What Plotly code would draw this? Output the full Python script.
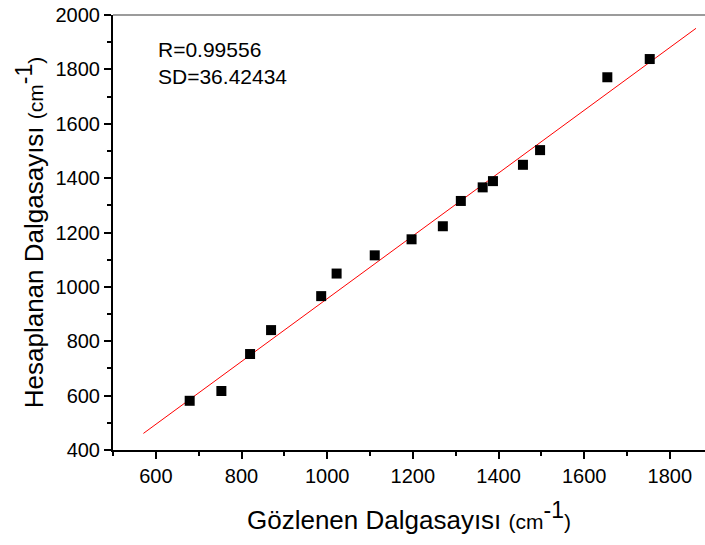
import plotly.graph_objects as go

# Observed vs. calculated wavenumbers (cm^-1)
observed = [679, 753, 820, 869, 986, 1022, 1111, 1197, 1270, 1312, 1363, 1387, 1457, 1497, 1654, 1753]
calculated = [581, 617, 753, 841, 966, 1049, 1116, 1175, 1223, 1316, 1366, 1389, 1449, 1503, 1771, 1838]

# Linear fit line end points
fit_x = [571, 1861]
fit_y = [461, 1951]

stats_text = ["R=0.99556", "SD=36.42434"]

x_ticks = [600, 800, 1000, 1200, 1400, 1600, 1800]
y_ticks = [400, 600, 800, 1000, 1200, 1400, 1600, 1800, 2000]

FONT = "Liberation Sans, Arial, sans-serif"


def unit_title(name):
    return (name + " <span style='font-size:21px'>(cm</span>"
            "<sup><span style='font-size:23px'>-1</span></sup>"
            "<span style='font-size:21px'>)</span>")


fig = go.Figure()
fig.add_trace(go.Scatter(
    x=fit_x, y=fit_y, mode="lines",
    line=dict(color="#ff0000", width=1), hoverinfo="skip", showlegend=False,
))
fig.add_trace(go.Scatter(
    x=observed, y=calculated, mode="markers",
    marker=dict(symbol="square", size=10, color="black", line=dict(width=0)),
    showlegend=False,
))

axis_common = dict(
    showgrid=False, zeroline=False, showline=True, linecolor="black", linewidth=2,
    ticks="outside", tickcolor="black", tickwidth=1.5, ticklen=7,
    tickfont=dict(family=FONT, size=20, color="black"),
)

fig.update_xaxes(
    range=[500, 1882], tickvals=x_ticks, mirror=False,
    minor=dict(dtick=100, tick0=500, ticks="outside", ticklen=4, tickwidth=1.5, tickcolor="black"),
    title=dict(text=unit_title("Gözlenen Dalgasayısı"),
               font=dict(family=FONT, size=26, color="black"), standoff=25),
    **axis_common,
)
fig.update_yaxes(
    range=[400, 2000], tickvals=y_ticks,
    minor=dict(dtick=100, tick0=400, ticks="outside", ticklen=4, tickwidth=1.5, tickcolor="black"),
    title=dict(text=unit_title("Hesaplanan Dalgasayısı"),
               font=dict(family=FONT, size=26, color="black"), standoff=4),
    **axis_common,
)

# Top frame line
fig.add_shape(type="line", xref="paper", yref="paper", x0=0, x1=1, y0=1, y1=1,
              line=dict(color="#7a7a7a", width=1.5))

fig.add_annotation(
    x=601, y=1924, xref="x", yref="y", xanchor="left", yanchor="top",
    text="<br>".join(stats_text), showarrow=False, align="left",
    font=dict(family=FONT, size=21, color="black"),
)

fig.update_layout(
    width=705, height=545,
    margin=dict(l=113, r=0, t=15, b=95),
    paper_bgcolor="white", plot_bgcolor="white",
)

fig.write_html("out.html")
